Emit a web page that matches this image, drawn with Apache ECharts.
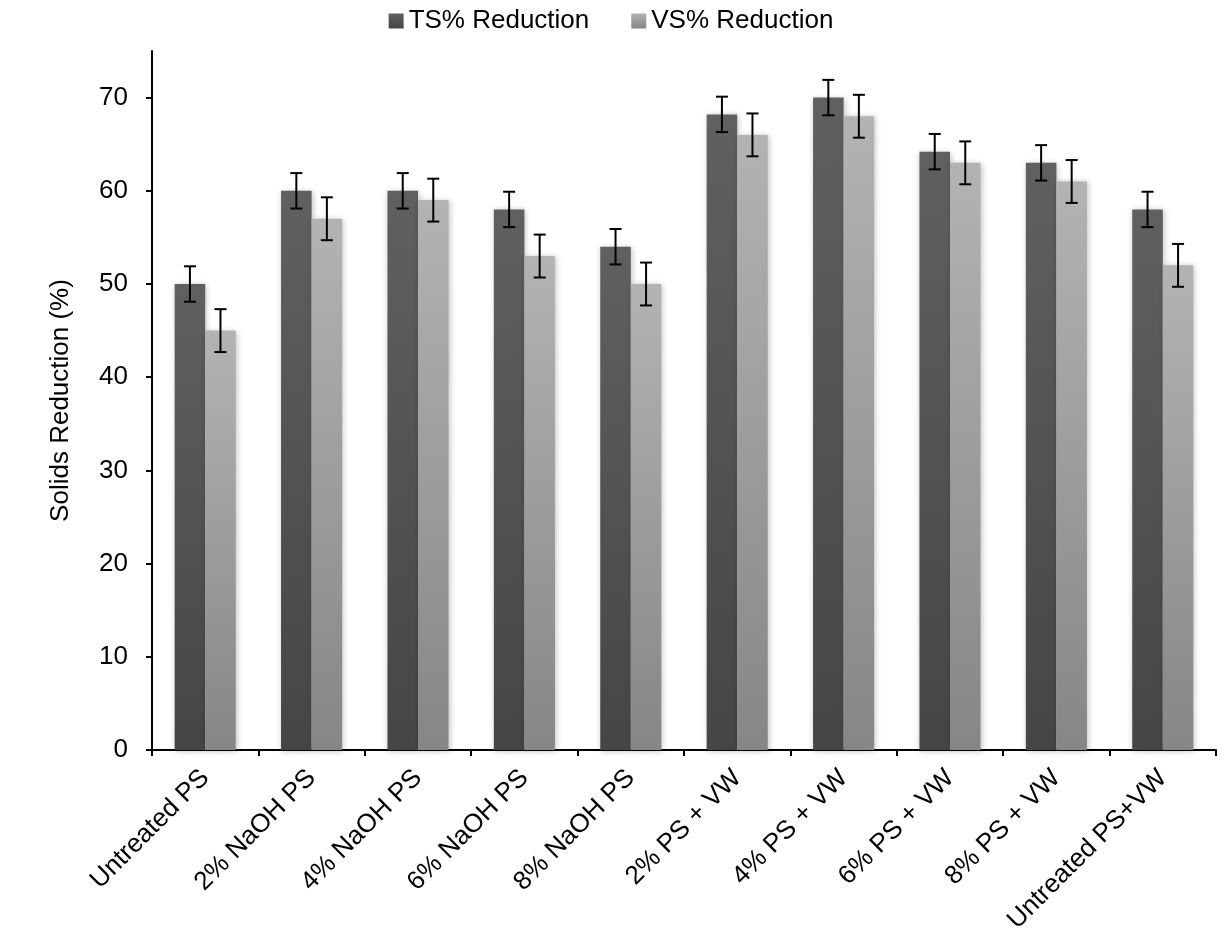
<!DOCTYPE html>
<html>
<head>
<meta charset="utf-8">
<script src="https://cdn.jsdelivr.net/npm/echarts@6/dist/echarts.min.js"></script>
<style>html,body{margin:0;padding:0;background:#fff;}#c{width:1222px;height:937px;}</style>
</head>
<body>
<div id="c"></div>
<script>
const categories = ['Untreated PS','2% NaOH PS','4% NaOH PS','6% NaOH PS','8% NaOH PS','2% PS + VW','4% PS + VW','6% PS + VW','8% PS + VW','Untreated PS+VW'];
const tsValues = [50, 60, 60, 58, 54, 68.2, 70, 64.2, 63, 58];
const vsValues = [45, 57, 59, 53, 50, 66, 68, 63, 61, 52];
const tsErr = [1.9, 1.9, 1.9, 1.9, 1.9, 1.9, 1.9, 1.9, 1.9, 1.9];
const vsErr = [2.3, 2.3, 2.3, 2.3, 2.3, 2.3, 2.3, 2.3, 2.3, 2.3];
const yTicks = [0, 10, 20, 30, 40, 50, 60, 70];

const FONT = 'Liberation Sans, Arial, sans-serif';
const BAR_FRAC = 0.287;

function grad(top, bottom) {
  return new echarts.graphic.LinearGradient(0, 0, 0, 1, [
    { offset: 0, color: top }, { offset: 1, color: bottom }
  ]);
}

function errData(vals, errs) {
  return vals.map((v, i) => [i, v - errs[i], v + errs[i]]);
}

function errRender(side) {
  return function (params, api) {
    const i = api.value(0);
    const lo = api.coord([i, api.value(1)]);
    const hi = api.coord([i, api.value(2)]);
    const band = api.size([1, 0])[0];
    const bw = band * BAR_FRAC;
    const x = lo[0] + side * bw / 2;
    const cap = 6;
    const st = { stroke: '#000', lineWidth: 2 };
    return {
      type: 'group',
      children: [
        { type: 'line', shape: { x1: x, y1: lo[1], x2: x, y2: hi[1] }, style: st },
        { type: 'line', shape: { x1: x - cap, y1: lo[1], x2: x + cap, y2: lo[1] }, style: st },
        { type: 'line', shape: { x1: x - cap, y1: hi[1], x2: x + cap, y2: hi[1] }, style: st }
      ]
    };
  };
}

const chart = echarts.init(document.getElementById('c'), null, { renderer: 'canvas' });
chart.setOption({
  animation: false,
  textStyle: { fontFamily: FONT },
  legend: {
    top: 3,
    left: 'center',
    itemWidth: 15,
    itemHeight: 15,
    itemGap: 42,
    icon: 'rect',
    textStyle: { fontSize: 26, color: '#000', fontFamily: FONT },
    data: ['TS% Reduction', 'VS% Reduction']
  },
  grid: { left: 152, right: 6, top: 51, bottom: 187 },
  xAxis: {
    type: 'category',
    data: categories,
    axisLine: { lineStyle: { color: '#000', width: 2 } },
    axisTick: { show: true, length: 6, lineStyle: { color: '#000', width: 2 } },
    axisLabel: { rotate: 45, fontSize: 26, color: '#000', fontFamily: FONT, margin: 24, interval: 0 }
  },
  yAxis: {
    type: 'value',
    min: 0,
    max: 75,
    interval: 10,
    name: 'Solids Reduction (%)',
    nameLocation: 'middle',
    nameGap: 78,
    nameTextStyle: { fontSize: 26, color: '#000', fontFamily: FONT },
    splitLine: { show: false },
    axisLine: { show: true, lineStyle: { color: '#000', width: 2 } },
    axisTick: { show: true, length: 6, lineStyle: { color: '#000', width: 2 }, customValues: yTicks },
    axisLabel: { fontSize: 26, color: '#000', fontFamily: FONT, margin: 24, customValues: yTicks }
  },
  series: [
    {
      name: 'TS% Reduction',
      type: 'bar',
      data: tsValues,
      barWidth: (BAR_FRAC * 100) + '%',
      barGap: '0%',
      itemStyle: { color: grad('#606060', '#454545'), shadowBlur: 6, shadowColor: 'rgba(0,0,0,0.25)', shadowOffsetX: 1, shadowOffsetY: 1 }
    },
    {
      name: 'VS% Reduction',
      type: 'bar',
      data: vsValues,
      barWidth: (BAR_FRAC * 100) + '%',
      barGap: '0%',
      itemStyle: { color: grad('#b3b3b3', '#868686'), shadowBlur: 6, shadowColor: 'rgba(0,0,0,0.25)', shadowOffsetX: 1, shadowOffsetY: 1 }
    },
    {
      type: 'custom',
      name: 'TS err',
      renderItem: errRender(-1),
      data: errData(tsValues, tsErr),
      encode: { x: 0, y: [1, 2] },
      z: 10,
      silent: true
    },
    {
      type: 'custom',
      name: 'VS err',
      renderItem: errRender(1),
      data: errData(vsValues, vsErr),
      encode: { x: 0, y: [1, 2] },
      z: 10,
      silent: true
    }
  ]
});
</script>
</body>
</html>
